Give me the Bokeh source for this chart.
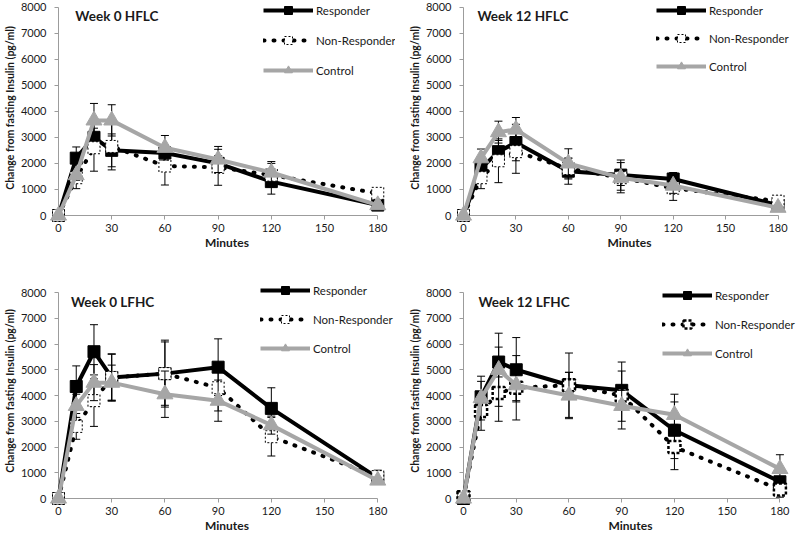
from bokeh.plotting import figure
from bokeh.layouts import column, row
from bokeh.models import FixedTicker, Legend, LegendItem, Label
from bokeh.embed import file_html
from bokeh.resources import INLINE

minutes = [0, 10, 20, 30, 60, 90, 120, 180]
x_ticks = [0, 30, 60, 90, 120, 150, 180]
y_ticks = [0, 1000, 2000, 3000, 4000, 5000, 6000, 7000, 8000]
series_names = ["Responder", "Non-Responder", "Control"]

# Week 0 HFLC
w0_hflc_resp = [0, 2200, 3000, 2500, 2400, 2000, 1300, 400]
w0_hflc_resp_se = [0, 430, 350, 630, 300, 300, 480, 100]
w0_hflc_nonr = [0, 1450, 2600, 2650, 1900, 1850, 1550, 850]
w0_hflc_nonr_se = [0, 420, 900, 900, 730, 690, 450, 150]
w0_hflc_ctrl = [0, 1550, 3650, 3650, 2600, 2150, 1650, 400]
w0_hflc_ctrl_se = [0, 200, 650, 600, 470, 500, 420, 100]

# Week 12 HFLC
w12_hflc_resp = [0, 1800, 2450, 2800, 1700, 1550, 1400, 400]
w12_hflc_resp_se = [0, 300, 430, 700, 500, 580, 250, 100]
w12_hflc_nonr = [0, 1450, 2100, 2450, 1800, 1450, 1050, 550]
w12_hflc_nonr_se = [0, 420, 840, 830, 400, 580, 470, 200]
w12_hflc_ctrl = [0, 2200, 3200, 3300, 2000, 1450, 1150, 300]
w12_hflc_ctrl_se = [0, 350, 420, 460, 560, 300, 300, 100]

# Week 0 LFHC
w0_lfhc_resp = [0, 4350, 5700, 4700, 4850, 5100, 3500, 800]
w0_lfhc_resp_se = [0, 800, 1050, 920, 1230, 1100, 800, 100]
w0_lfhc_nonr = [0, 2800, 3800, 4700, 4850, 4300, 2400, 850]
w0_lfhc_nonr_se = [0, 500, 1000, 900, 1300, 900, 750, 250]
w0_lfhc_ctrl = [0, 3600, 4500, 4500, 4050, 3800, 2850, 700]
w0_lfhc_ctrl_se = [0, 450, 700, 680, 900, 800, 350, 100]

# Week 12 LFHC
w12_lfhc_resp = [0, 3950, 5300, 5000, 4400, 4200, 2650, 650]
w12_lfhc_resp_se = [0, 600, 580, 1250, 500, 750, 1100, 100]
w12_lfhc_nonr = [50, 3400, 4100, 4300, 4400, 4000, 2000, 350]
w12_lfhc_nonr_se = [100, 750, 1100, 1250, 1250, 1300, 880, 300]
w12_lfhc_ctrl = [0, 3900, 5000, 4400, 4000, 3600, 3250, 1150]
w12_lfhc_ctrl_se = [0, 850, 1420, 600, 900, 600, 800, 550]

FONT = "Lato"
GRAY = "#a6a6a6"
AXIS = "#9c9c9c"


def make_panel(title, data, width, height, bl, br, bt, bb, y_top, title_x, legend_loc, spacing,
               heavy_nr=False):
    p = figure(width=width, height=height, x_range=(0, 190), y_range=(0, y_top),
               output_backend="svg", toolbar_location=None,
               min_border_left=bl, min_border_right=br, min_border_top=bt, min_border_bottom=bb)
    p.grid.visible = False
    p.outline_line_color = None
    p.background_fill_color = "white"
    p.border_fill_color = "white"

    p.xaxis.ticker = FixedTicker(ticks=x_ticks)
    p.yaxis.ticker = FixedTicker(ticks=y_ticks)
    p.xaxis.bounds = (x_ticks[0], x_ticks[-1])
    p.yaxis.bounds = (y_ticks[0], y_ticks[-1])
    for ax in (p.xaxis[0], p.yaxis[0]):
        ax.axis_line_color = AXIS
        ax.axis_line_width = 1
        ax.major_tick_line_color = AXIS
        ax.major_tick_out = 4
        ax.major_tick_in = 0
        ax.minor_tick_line_color = None
        ax.major_label_text_font = FONT
        ax.major_label_text_font_size = "11px"
        ax.major_label_text_color = "#1a1a1a"
        ax.axis_label_text_font = FONT
        ax.axis_label_text_font_style = "bold"
        ax.axis_label_text_color = "#1a1a1a"
    p.yaxis.major_label_standoff = 8
    p.xaxis.major_label_standoff = 4
    p.xaxis.axis_label = "Minutes"
    p.xaxis.axis_label_text_font_size = "12px"
    p.xaxis.axis_label_standoff = 0
    p.yaxis.axis_label = "Change from fasting Insulin (pg/ml)"
    p.yaxis.axis_label_text_font_size = "10.5px"
    p.yaxis.axis_label_standoff = 2

    styles = [
        dict(line=dict(line_color="black", line_width=4),
             mk=dict(marker="square", size=12, fill_color="black", line_color="black")),
        dict(line=dict(line_color="black", line_width=4, line_dash="1 9", line_cap="round"),
             mk=dict(marker="square", size=12, fill_color="white", line_color="black",
                     line_width=2.5 if heavy_nr else 1, line_dash="3 2" if heavy_nr else "2 2")),
        dict(line=dict(line_color=GRAY, line_width=4),
             mk=dict(marker="triangle", size=16, fill_color=GRAY, line_color=GRAY)),
    ]

    items = []
    for name, (ys, se), st in zip(series_names, data, styles):
        ex = [m for m, e in zip(minutes, se) if e > 0]
        lo = [y - e for y, e in zip(ys, se) if e > 0]
        hi = [y + e for y, e in zip(ys, se) if e > 0]
        seg = p.segment(x0=ex, y0=lo, x1=ex, y1=hi, line_color="black", line_width=1)
        caps = p.scatter(x=ex + ex, y=lo + hi, marker="dash", size=8, line_color="black", line_width=1)
        ln = p.line(minutes, ys, **st["line"])
        mk = p.scatter(minutes, ys, **st["mk"])
        for r in (seg, caps, ln, mk):
            r.level = "overlay"
        items.append(LegendItem(label=name, renderers=[ln, mk]))

    legend = Legend(items=items, location=legend_loc, orientation="vertical",
                    background_fill_alpha=0, border_line_color=None,
                    glyph_width=50, glyph_height=20, label_height=20, spacing=spacing,
                    padding=0, margin=0, label_standoff=3,
                    label_text_font=FONT, label_text_font_size="11.5px", label_text_color="#1a1a1a")
    p.add_layout(legend)

    p.add_layout(Label(x=title_x, y=7650, text=title, text_font=FONT, text_font_style="bold",
                       text_font_size="13.5px", text_baseline="middle", text_color="#1a1a1a"))
    return p


p1 = make_panel("Week 0 HFLC",
                [(w0_hflc_resp, w0_hflc_resp_se), (w0_hflc_nonr, w0_hflc_nonr_se), (w0_hflc_ctrl, w0_hflc_ctrl_se)],
                400, 265, 57, 5, 0, 50, 8250, 9.5, (205, 135), 10)
p2 = make_panel("Week 12 HFLC",
                [(w12_hflc_resp, w12_hflc_resp_se), (w12_hflc_nonr, w12_hflc_nonr_se), (w12_hflc_ctrl, w12_hflc_ctrl_se)],
                399, 265, 63, 4, 0, 50, 8250, 8, (193, 139), 8)
p3 = make_panel("Week 0 LFHC",
                [(w0_lfhc_resp, w0_lfhc_resp_se), (w0_lfhc_nonr, w0_lfhc_nonr_se), (w0_lfhc_ctrl, w0_lfhc_ctrl_se)],
                400, 270, 57, 5, 18, 34, 8350, 7, (202, 140), 9)
p4 = make_panel("Week 12 LFHC",
                [(w12_lfhc_resp, w12_lfhc_resp_se), (w12_lfhc_nonr, w12_lfhc_nonr_se), (w12_lfhc_ctrl, w12_lfhc_ctrl_se)],
                399, 270, 63, 2, 18, 34, 8350, 8.5, (199, 135), 9, heavy_nr=True)

layout = column(row(p1, p2), row(p3, p4))
open("out.html", "w").write(file_html(layout, INLINE))
